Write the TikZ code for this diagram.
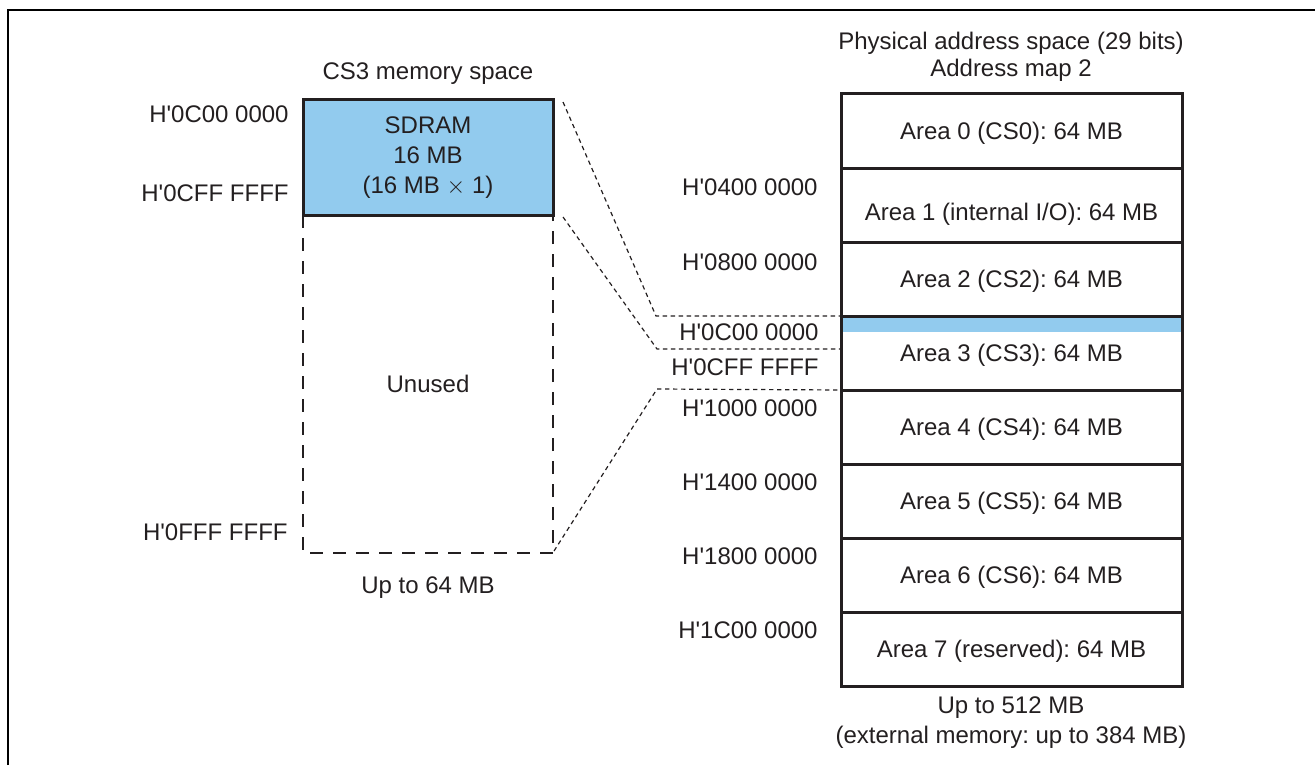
\documentclass[tikz,border=0pt]{standalone}
\usepackage{fontspec}
\setmainfont{Liberation Sans}
\definecolor{sdblue}{RGB}{146,203,238}
\definecolor{txt}{RGB}{35,31,32}
\definecolor{boxc}{RGB}{35,31,32}
\newcommand{\ap}{\textquotesingle}
\begin{document}
\frenchspacing
\begin{tikzpicture}[x=0.5pt,y=-0.5pt,
  every node/.style={font=\fontsize{12}{14}\selectfont, text=txt},
  lbl/.style={anchor=east, inner sep=0pt},
  ttl/.style={inner sep=0pt},
  area/.style={draw=boxc, line width=1.5pt, minimum width=170.5pt, minimum height=37pt, inner sep=0pt, outer sep=0pt, text height=8pt, text depth=0pt},
  thindash/.style={draw=boxc, line width=0.6pt, dash pattern=on 2.2pt off 1.8pt},
  bigdash/.style={draw=boxc, line width=1.1pt, dash pattern=on 6.5pt off 5pt}]
\useasboundingbox (0,0) rectangle (1315,765);
% frame
\draw[line width=1pt] (8,765) -- (8,10) -- (1315,10);

% titles
\node[ttl] (t1) at (428,74) {CS3 memory space};
\node[ttl] (t2) at (1011,43) {Physical address space (29 bits)};
\node[ttl] (t3) at (1011,70) {Address map 2};
\node[ttl] (b1) at (428,588) {Up to 64 MB};
\node[ttl] (b2) at (1011,708) {Up to 512 MB};
\node[ttl] (b3) at (1011,737) {(external memory: up to 384 MB)};

% left: CS3 memory space
\node[inner sep=0pt, outer sep=0pt, minimum width=125pt, minimum height=169pt] (unused) at (428,384) {Unused};
\draw[bigdash] (unused.north west) -- (unused.south west) -- (unused.south east) -- (unused.north east);
\node[draw=boxc, fill=sdblue, line width=1.5pt, minimum width=125pt, minimum height=57.5pt, inner sep=0pt, outer sep=0pt, font=\fontsize{12}{15}\selectfont] (sdram) at (428,157.5) {\raisebox{-3pt}{\begin{tabular}{@{}c@{}}SDRAM\\16 MB\\(16 MB $\times$ 1)\end{tabular}}};

\node[lbl] (la) at (289,114) {H\ap0C00 0000};
\node[lbl] (lb) at (289,193) {H\ap0CFF FFFF};
\node[lbl] (lc) at (288,532) {H\ap0FFF FFFF};

% right: physical address space
\fill[sdblue] (841,316) rectangle (1182,332);
\node[area] (a0) at (1011.5,131) {Area 0 (CS0): 64 MB};
\node[area] (a1) at (1011.5,205) {\raisebox{-3.5pt}{Area 1 (internal I/O): 64 MB}};
\node[area] (a2) at (1011.5,279) {Area 2 (CS2): 64 MB};
\node[area] (a3) at (1011.5,353) {Area 3 (CS3): 64 MB};
\node[area] (a4) at (1011.5,427) {Area 4 (CS4): 64 MB};
\node[area] (a5) at (1011.5,501) {Area 5 (CS5): 64 MB};
\node[area] (a6) at (1011.5,575) {Area 6 (CS6): 64 MB};
\node[area] (a7) at (1011.5,649) {Area 7 (reserved): 64 MB};

\node[lbl] (r1) at (818,187) {H\ap0400 0000};
\node[lbl] (r2) at (818,262) {H\ap0800 0000};
\node[lbl] (r3) at (819,332) {H\ap0C00 0000};
\node[lbl] (r4) at (819,367) {H\ap0CFF FFFF};
\node[lbl] (r5) at (818,408) {H\ap1000 0000};
\node[lbl] (r6) at (818,482) {H\ap1400 0000};
\node[lbl] (r7) at (818,556) {H\ap1800 0000};
\node[lbl] (r8) at (818,630) {H\ap1C00 0000};

% connectors
\coordinate (p1) at (563,102);
\coordinate (q1) at (656,316);
\coordinate (p2) at (563,217);
\coordinate (q2) at (657,349);
\coordinate (e2) at (841,349);
\coordinate (p3) at (554,551);
\coordinate (q3) at (657,389);
\draw[thindash] (p1) -- (q1) -- (a3.north west);
\draw[thindash] (p2) -- (q2) -- (e2);
\draw[thindash] (p3) -- (q3) -- (a4.north west);
\end{tikzpicture}
\end{document}
